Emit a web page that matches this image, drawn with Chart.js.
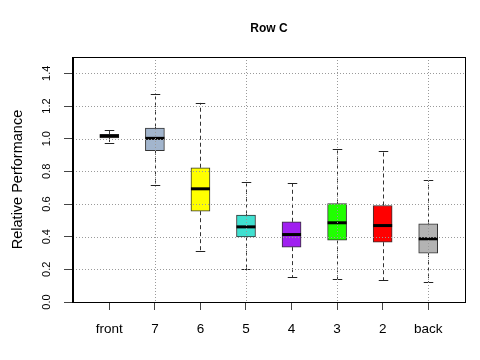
<!DOCTYPE html>
<html>
<head>
<meta charset="utf-8">
<script src="https://cdn.jsdelivr.net/npm/chart.js@4/dist/chart.umd.min.js"></script>
<style>
html,body{margin:0;padding:0;background:#fff;}
canvas{display:block;}
</style>
</head>
<body>
<canvas id="c" width="480" height="360"></canvas>
<script>
// ---- data ----
const categories  = ['front', '7', '6', '5', '4', '3', '2', 'back'];
const whiskerLow  = [0.975, 0.718, 0.311, 0.200, 0.153, 0.139, 0.133, 0.121];
const quartile1   = [1.004, 0.926, 0.556, 0.399, 0.336, 0.378, 0.366, 0.299];
const medians     = [1.016, 1.002, 0.693, 0.460, 0.413, 0.485, 0.468, 0.387];
const quartile3   = [1.027, 1.065, 0.822, 0.532, 0.491, 0.603, 0.591, 0.479];
const whiskerHigh = [1.051, 1.276, 1.219, 0.732, 0.726, 0.937, 0.922, 0.747];
const yTickValues = [0.0, 0.2, 0.4, 0.6, 0.8, 1.0, 1.2, 1.4];
const verticalGridAt = [1, 3, 5, 7];

const boxColors = ['#FFE4C4', '#A2B5CD', '#FFFF00', '#40E0D0', '#A020F0', '#20FF00', '#FF0000', '#B3B3B3'];
const FONT = "'Liberation Sans', Arial, Helvetica, sans-serif";

const boxExtras = {
  id: 'boxExtras',
  afterDatasetsDraw(chart) {
    const {ctx, chartArea: a, scales: {x, y}} = chart;
    const meta = chart.getDatasetMeta(0);
    ctx.save();
    meta.data.forEach((bar, i) => {
      const cx = Math.round(bar.x) + 0.5;
      const half = bar.width / 2;
      const yLo = y.getPixelForValue(whiskerLow[i]);
      const yQ1 = y.getPixelForValue(quartile1[i]);
      const yQ3 = y.getPixelForValue(quartile3[i]);
      const yHi = y.getPixelForValue(whiskerHigh[i]);
      const yMed = y.getPixelForValue(medians[i]);
      // dashed whiskers
      ctx.strokeStyle = '#333';
      ctx.lineWidth = 1;
      ctx.setLineDash([4, 3]);
      ctx.beginPath();
      ctx.moveTo(cx, yQ3); ctx.lineTo(cx, yHi);
      ctx.moveTo(cx, yQ1); ctx.lineTo(cx, yLo);
      ctx.stroke();
      // caps
      ctx.setLineDash([]);
      ctx.strokeStyle = '#222';
      ctx.beginPath();
      ctx.moveTo(cx - half / 2, Math.round(yHi) + 0.5); ctx.lineTo(cx + half / 2, Math.round(yHi) + 0.5);
      ctx.moveTo(cx - half / 2, Math.round(yLo) + 0.5); ctx.lineTo(cx + half / 2, Math.round(yLo) + 0.5);
      ctx.stroke();
      // median
      ctx.strokeStyle = '#000';
      ctx.lineWidth = 3;
      ctx.beginPath();
      ctx.moveTo(bar.x - half, yMed); ctx.lineTo(bar.x + half, yMed);
      ctx.stroke();
    });
    // dotted grid
    ctx.strokeStyle = '#9a9a9a';
    ctx.lineWidth = 1;
    ctx.setLineDash([1, 2]);
    ctx.beginPath();
    yTickValues.forEach(v => {
      if (v === 0) return;
      const py = Math.round(y.getPixelForValue(v)) + 0.5;
      ctx.moveTo(a.left + 1, py); ctx.lineTo(a.right, py);
    });
    verticalGridAt.forEach(v => {
      const px = Math.round(x.getPixelForValue(v)) + 0.5;
      ctx.moveTo(px, a.top); ctx.lineTo(px, a.bottom);
    });
    ctx.stroke();
    ctx.setLineDash([]);
    // frame
    ctx.strokeStyle = '#000';
    ctx.lineWidth = 1;
    ctx.strokeRect(a.left + 0.5, a.top + 0.5, a.right - a.left - 1, a.bottom - a.top);
    // heavier left axis line
    ctx.lineWidth = 2;
    ctx.beginPath();
    ctx.moveTo(a.left + 1, a.top);
    ctx.lineTo(a.left + 1, a.bottom + 1);
    ctx.stroke();
    ctx.restore();
  }
};

new Chart(document.getElementById('c'), {
  type: 'bar',
  data: {
    datasets: [{
      data: categories.map((c, i) => ({x: i, y: [quartile1[i], quartile3[i]]})),
      backgroundColor: boxColors,
      borderColor: '#333',
      borderWidth: 1,
      borderSkipped: false,
      barThickness: 19
    }]
  },
  options: {
    responsive: false,
    animation: false,
    layout: {padding: {left: 0, right: 14, top: 0, bottom: 0}},
    plugins: {
      legend: {display: false},
      tooltip: {enabled: false},
      title: {
        display: true,
        text: 'Row C',
        fullSize: false,
        color: '#000',
        font: {family: FONT, size: 12, weight: 'bold'},
        padding: {top: 21.8, bottom: 20.8}
      }
    },
    scales: {
      x: {
        type: 'linear',
        min: -0.82,
        max: 7.83,
        offset: false,
        afterBuildTicks: s => { s.ticks = categories.map((c, i) => ({value: i})); },
        afterFit: s => { s.height = 58; },
        grid: {drawOnChartArea: false, drawTicks: true, tickLength: 8, tickColor: '#444', offset: false},
        border: {display: false},
        ticks: {
          autoSkip: false, maxRotation: 0, minRotation: 0,
          padding: 11,
          color: '#000',
          font: {family: FONT, size: 13.5},
          callback: (v) => categories[Math.round(v)]
        }
      },
      y: {
        type: 'linear',
        min: 0,
        max: 1.5,
        afterBuildTicks: s => { s.ticks = yTickValues.map(v => ({value: v})); },
        afterFit: s => { s.width = 72; },
        grid: {drawOnChartArea: false, drawTicks: true, tickLength: 8, tickColor: '#444'},
        border: {display: false},
        ticks: {
          minRotation: 90, maxRotation: 90,
          crossAlign: 'center',
          padding: 9,
          color: '#000',
          font: {family: FONT, size: 11},
          callback: (v) => Number(v).toFixed(1)
        },
        title: {
          display: true,
          text: 'Relative Performance',
          color: '#000',
          font: {family: FONT, size: 14.5},
          padding: {top: 9, bottom: 0}
        }
      }
    }
  },
  plugins: [boxExtras]
});
</script>
</body>
</html>
